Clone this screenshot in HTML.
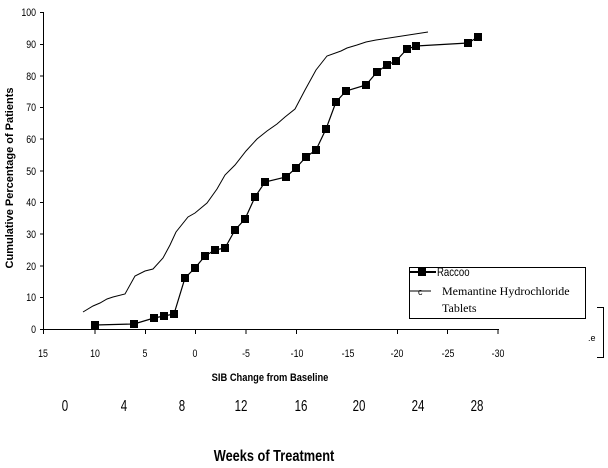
<!DOCTYPE html>
<html><head><meta charset="utf-8"><style>
html,body{margin:0;padding:0;background:#fff;}
svg{display:block;}
text{font-family:"Liberation Sans",sans-serif;fill:#000;}
</style></head><body>
<svg width="608" height="468" viewBox="0 0 608 468" xmlns="http://www.w3.org/2000/svg">
<g stroke="#000" stroke-width="1" fill="none">
<line x1="43.5" y1="12" x2="43.5" y2="329.5"/>
<line x1="43" y1="329.5" x2="499" y2="329.5"/>
<path d="M40 12.5H43.5M40 44.5H43.5M40 76H43.5M40 107.5H43.5M40 139H43.5M40 171H43.5M40 202.5H43.5M40 234H43.5M40 266H43.5M40 297.5H43.5M40 329.5H43.5"/>
<path d="M43.5 329V334M95 329V334M145.5 329V334M195.5 329V334M246 329V334M296.5 329V334M397.5 329V334M447.5 329V334M498 329V334"/>
</g>
<g font-size="11" text-anchor="end" transform="translate(36 0) scale(0.8 1)">
<text x="0" y="16">100</text>
<text x="0" y="48">90</text><text x="0" y="80">80</text><text x="0" y="111">70</text>
<text x="0" y="143">60</text><text x="0" y="175">50</text><text x="0" y="206">40</text>
<text x="0" y="238">30</text><text x="0" y="270">20</text><text x="0" y="301">10</text>
<text x="0" y="333">0</text>
</g>
<g font-size="11" text-anchor="middle">
<text transform="translate(43 357) scale(0.8 1)">15</text><text transform="translate(95 357) scale(0.8 1)">10</text><text transform="translate(145 357) scale(0.8 1)">5</text>
<text transform="translate(195 357) scale(0.8 1)">0</text><text transform="translate(246 357) scale(0.8 1)">-5</text><text transform="translate(297 357) scale(0.8 1)">-10</text>
<text transform="translate(348 357) scale(0.8 1)">-15</text><text transform="translate(397 357) scale(0.8 1)">-20</text><text transform="translate(448 357) scale(0.8 1)">-25</text>
<text transform="translate(498 357) scale(0.8 1)">-30</text>
</g>
<text transform="translate(270 381) scale(0.85 1)" font-size="11" font-weight="bold" text-anchor="middle">SIB Change from Baseline</text>
<g font-size="16" text-anchor="middle">
<text transform="translate(65 411) scale(0.72 1)">0</text><text transform="translate(124 411) scale(0.72 1)">4</text><text transform="translate(182 411) scale(0.72 1)">8</text>
<text transform="translate(241 411) scale(0.72 1)">12</text><text transform="translate(301 411) scale(0.72 1)">16</text><text transform="translate(359 411) scale(0.72 1)">20</text>
<text transform="translate(418 411) scale(0.72 1)">24</text><text transform="translate(477 411) scale(0.72 1)">28</text>
</g>
<text transform="translate(274 461) scale(0.8 1)" font-size="16" font-weight="bold" text-anchor="middle">Weeks of Treatment</text>
<text transform="translate(13 178) rotate(-90)" font-size="11" font-weight="bold" text-anchor="middle">Cumulative Percentage of Patients</text>
<polyline fill="none" stroke="#000" stroke-width="1" points="83,312 93,306 100,303 107,299 113,297 125,294 135,276 145,271 153,269 163,258 170,245 176,232 188,217 195,213 207,203 217,189 225,175 235,165 246,151 257,139 267,131 277,124 285,117 295,109 305,90 316,70 327,56 341,51 347,48 357,45 366,42 376,40 428,32"/>
<polyline fill="none" stroke="#000" stroke-width="1.2" points="95,325 134,324 154,318 164,316 174,314 185,278 195,268 205,256 215,250 225,248 235,230 245,219 255,197 265,182 286,177 296,168 306,157 316,150 326,129 336,102 346,91 366,85 377,72 387,65 396,61 407,49 416,46 468,43 478,37"/>
<g fill="#000">
<rect x="91" y="321" width="8" height="8"/><rect x="130" y="320" width="8" height="8"/><rect x="150" y="314" width="8" height="8"/><rect x="160" y="312" width="8" height="8"/><rect x="170" y="310" width="8" height="8"/><rect x="181" y="274" width="8" height="8"/><rect x="191" y="264" width="8" height="8"/><rect x="201" y="252" width="8" height="8"/><rect x="211" y="246" width="8" height="8"/><rect x="221" y="244" width="8" height="8"/><rect x="231" y="226" width="8" height="8"/><rect x="241" y="215" width="8" height="8"/><rect x="251" y="193" width="8" height="8"/><rect x="261" y="178" width="8" height="8"/><rect x="282" y="173" width="8" height="8"/><rect x="292" y="164" width="8" height="8"/><rect x="302" y="153" width="8" height="8"/><rect x="312" y="146" width="8" height="8"/><rect x="322" y="125" width="8" height="8"/><rect x="332" y="98" width="8" height="8"/><rect x="342" y="87" width="8" height="8"/><rect x="362" y="81" width="8" height="8"/><rect x="373" y="68" width="8" height="8"/><rect x="383" y="61" width="8" height="8"/><rect x="392" y="57" width="8" height="8"/><rect x="403" y="45" width="8" height="8"/><rect x="412" y="42" width="8" height="8"/><rect x="464" y="39" width="8" height="8"/><rect x="474" y="33" width="8" height="8"/>
</g>
<rect x="409.5" y="267.5" width="176" height="51" fill="#fff" stroke="#000"/>
<line x1="409" y1="272" x2="436" y2="272" stroke="#000" stroke-width="2"/>
<rect x="418" y="268" width="8" height="8" fill="#000"/>
<text transform="translate(437 276) scale(0.8 1)" font-size="12">Raccoo</text>
<line x1="409" y1="291" x2="431" y2="291" stroke="#000"/>
<text x="418" y="295" font-size="9">c</text>
<text x="442" y="295" font-size="12" style="font-family:'Liberation Serif',serif">Memantine Hydrochloride</text>
<text x="442" y="312" font-size="12" style="font-family:'Liberation Serif',serif">Tablets</text>
<path d="M597 307.5H603.5V357.5H597" fill="none" stroke="#000"/>
<text x="588" y="341" font-size="9">.e</text>
</svg>
</body></html>
